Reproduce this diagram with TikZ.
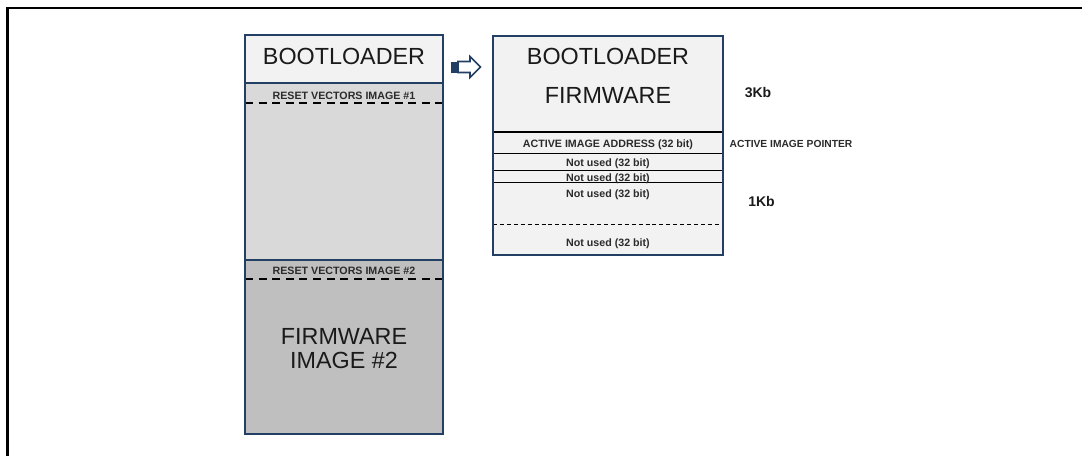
\documentclass[tikz,border=0pt]{standalone}
\usepackage{fontspec}
\setmainfont{Liberation Sans}
\definecolor{bord}{HTML}{243F64}
\definecolor{lightfill}{HTML}{F2F2F2}
\definecolor{midfill}{HTML}{D9D9D9}
\definecolor{darkfill}{HTML}{BFBFBF}
\definecolor{txt}{HTML}{1A1A1A}
\definecolor{smalltxt}{HTML}{2B2B2B}
\tikzset{
  bigtext/.style={font=\fontsize{17.5}{21}\selectfont, text=txt, inner sep=0pt, text height=0.716em, text depth=0pt, anchor=center},
  smalltext/.style={font=\fontsize{8}{9.6}\selectfont\bfseries, text=smalltxt, inner sep=0pt, text height=0.716em, text depth=0pt, anchor=center},
  sizetext/.style={font=\fontsize{10.5}{12}\selectfont\bfseries, text=txt, inner sep=0pt, text height=0.716em, text depth=0pt, anchor=center},
  outerbox/.style={draw=bord, line width=1.6pt},
  bluesep/.style={draw=bord, line width=1.2pt},
  thickdash/.style={draw=black, line width=1.7pt, dash pattern=on 6pt off 4.2pt},
  thindash/.style={draw=black, line width=0.7pt, dash pattern=on 3pt off 2.2pt},
  blacksep/.style={draw=black, line width=0.7pt},
  arrowbody/.style={draw=bord, line width=1.2pt, fill=white, line join=miter},
}
\begin{document}
\begin{tikzpicture}[x=0.75pt,y=-0.75pt]
\useasboundingbox (0,0) rectangle (1082,455);
\clip (0,0) rectangle (1082,455);

% outer frame (extends beyond right and bottom)
\draw[line width=1.9pt, line cap=rect] (7.5,470) -- (7.5,7.8) -- (1100,7.8);

% ---------- left memory column ----------
\fill[lightfill] (245,35) rectangle (443,83);
\fill[midfill] (245,83) rectangle (443,260);
\fill[darkfill] (245,260) rectangle (443,434);
\draw[thickdash] (245,103) -- (443,103);
\draw[thickdash] (245,279) -- (443,279);
\draw[bluesep] (245,83) -- (443,83);
\draw[bluesep] (245,260) -- (443,260);
\draw[outerbox] (245,35) rectangle (443,434);

\node[bigtext] (bl) at (344,59.5) {BOOTLOADER};
\node[smalltext] (rv1) at (344,94.5) {RESET VECTORS IMAGE \#1};
\node[smalltext] (rv2) at (344,269.5) {RESET VECTORS IMAGE \#2};
\node[bigtext] (fw1) at (344,339.5) {FIRMWARE};
\node[bigtext] (fw2) at (344,364) {IMAGE \#2};

% ---------- block arrow ----------
\fill[bord] (451,61.5) rectangle (457.5,72.5);
\path[arrowbody] (458,61.5) -- (470,61.5) -- (470,56.5) -- (480.5,67) -- (470,77.5) -- (470,72.5) -- (458,72.5) -- cycle;

% ---------- right detail column ----------
\fill[lightfill] (493,36) rectangle (723,255);
\draw[line width=1.1pt] (493,132) -- (723,132);
\draw[blacksep] (493,153) -- (723,153);
\draw[blacksep] (493,170) -- (723,170);
\draw[blacksep] (493,182) -- (723,182);
\draw[thindash] (493,224) -- (723,224);
\draw[outerbox] (493,36) rectangle (723,255);

\node[bigtext] (bf1) at (608,59.5) {BOOTLOADER};
\node[bigtext] (bf2) at (608,99) {FIRMWARE};
\node[smalltext] (aia) at (608,143) {ACTIVE IMAGE ADDRESS (32 bit)};
\node[smalltext] (nu1) at (608,161.5) {Not used (32 bit)};
\node[smalltext] (nu2) at (608,176.5) {Not used (32 bit)};
\node[smalltext] (nu3) at (608,193) {Not used (32 bit)};
\node[smalltext] (nu4) at (608,242) {Not used (32 bit)};

% ---------- side labels ----------
\node[sizetext] (kb3) at (758,93) {3Kb};
\node[smalltext, font=\fontsize{7.7}{9}\selectfont\bfseries] (aip) at (791,143) {ACTIVE IMAGE POINTER};
\node[sizetext] (kb1) at (761.5,202) {1Kb};
\end{tikzpicture}
\end{document}
